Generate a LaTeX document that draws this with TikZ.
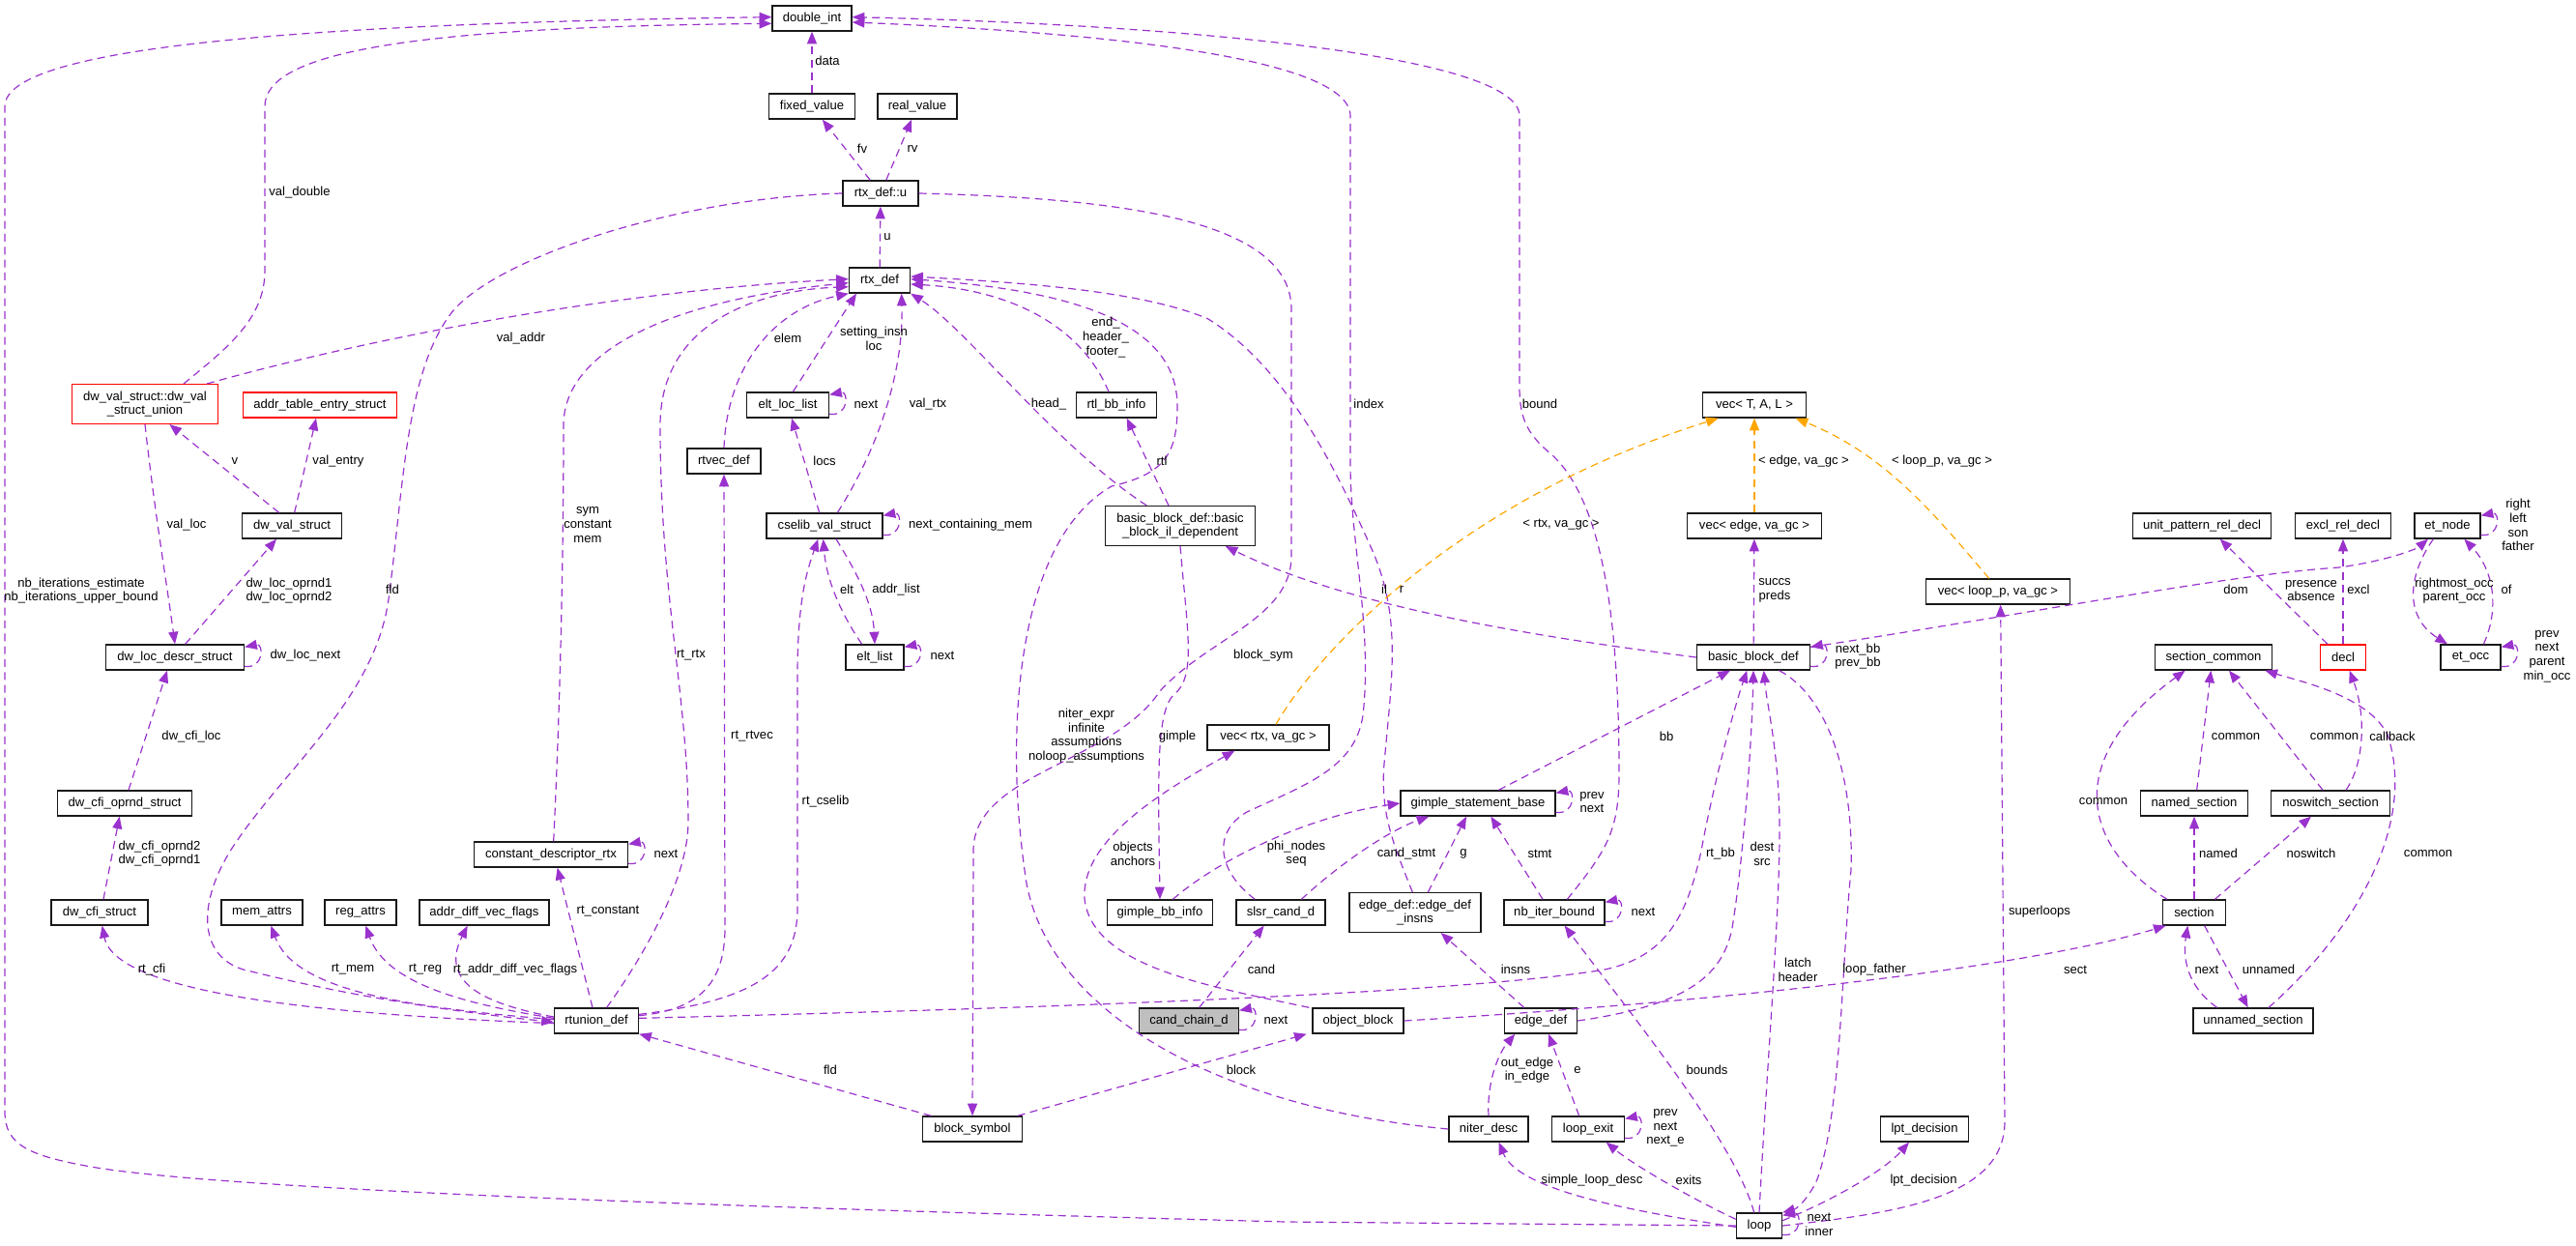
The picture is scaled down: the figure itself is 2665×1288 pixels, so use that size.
\documentclass[tikz,border=0pt]{standalone}
\usepackage{fontspec}
\setmainfont{Liberation Sans}
\usetikzlibrary{arrows.meta}
\definecolor{usecol}{HTML}{9A32CD}
\definecolor{tplcol}{HTML}{FFA500}
\definecolor{selcol}{HTML}{BFBFBF}
\newcommand{\lbfont}{\fontsize{9.8}{11}\selectfont}

\begin{document}
\begin{tikzpicture}[x={(0.75pt,0)}, y={(0,-0.75pt)},
    cls/.style={draw=black!90, line width=1pt, fill=white, inner xsep=1pt, inner ysep=1pt,
                minimum height=19.5pt, align=center, font=\lbfont},
    boxw/.style={minimum width=#1*0.75pt},
    tall/.style={minimum height=30.5pt},
    bad/.style={draw=red},
    lbl/.style={inner sep=0pt, align=center, font=\lbfont},
    coll/.style={draw=usecol, line width=0.9pt, dash pattern=on 6pt off 4pt,
                 -{Triangle[length=9.5pt,width=7.5pt]}},
    tpl/.style={coll, draw=tplcol}]
    \useasboundingbox (0,0) rectangle (2665,1288);

    % Classes, top to bottom
    \node[cls, boxw=82] (double_int) at (840,19) {double\_int};
    \node[cls, boxw=89] (fixed_value) at (840,110) {fixed\_value};
    \node[cls, boxw=82] (real_value) at (949,110) {real\_value};
    \node[cls, boxw=78] (rtx_def_u) at (911,200) {rtx\_def::u};
    \node[cls, boxw=63] (rtx_def) at (910,290) {rtx\_def};
    \node[cls, bad, tall, boxw=151] (dw_val_union) at (150,418) {dw\_val\_struct::dw\_val\\\_struct\_union};
    \node[cls, bad, boxw=159] (addr_table) at (331,419) {addr\_table\_entry\_struct};
    \node[cls, boxw=85] (elt_loc_list) at (815,419) {elt\_loc\_list};
    \node[cls, boxw=83] (rtl_bb_info) at (1155,419) {rtl\_bb\_info};
    \node[cls, boxw=107] (vec_tal) at (1815,419) {vec< T, A, L >};
    \node[cls, boxw=76] (rtvec_def) at (749,477) {rtvec\_def};
    \node[cls, boxw=103] (dw_val_struct) at (302,544) {dw\_val\_struct};
    \node[cls, boxw=120] (cselib_val_struct) at (853,544) {cselib\_val\_struct};
    \node[cls, tall, boxw=155] (bbil) at (1221,544) {basic\_block\_def::basic\\\_block\_il\_dependent};
    \node[cls, boxw=139] (vec_edge) at (1815,544) {vec< edge, va\_gc >};
    \node[cls, boxw=143] (unit_pattern_rel_decl) at (2278,544) {unit\_pattern\_rel\_decl};
    \node[cls, boxw=99] (excl_rel_decl) at (2424,544) {excl\_rel\_decl};
    \node[cls, boxw=68] (et_node) at (2532,544) {et\_node};
    \node[cls, boxw=149] (vec_loop) at (2067,612) {vec< loop\_p, va\_gc >};
    \node[cls, boxw=143] (dw_loc_descr_struct) at (181,680) {dw\_loc\_descr\_struct};
    \node[cls, boxw=60] (elt_list) at (905,680) {elt\_list};
    \node[cls, boxw=117] (basic_block_def) at (1814,680) {basic\_block\_def};
    \node[cls, boxw=121] (section_common) at (2290,680) {section\_common};
    \node[cls, bad, boxw=47] (decl) at (2424,680) {decl};
    \node[cls, boxw=62] (et_occ) at (2556,680) {et\_occ};
    \node[cls, boxw=126] (vec_rtx) at (1312,763) {vec< rtx, va\_gc >};
    \node[cls, boxw=139] (dw_cfi_oprnd_struct) at (129,831) {dw\_cfi\_oprnd\_struct};
    \node[cls, boxw=160] (gimple_statement_base) at (1529,831) {gimple\_statement\_base};
    \node[cls, boxw=111] (named_section) at (2270,831) {named\_section};
    \node[cls, boxw=123] (noswitch_section) at (2411,831) {noswitch\_section};
    \node[cls, boxw=159] (constant_descriptor_rtx) at (570,884) {constant\_descriptor\_rtx};
    \node[cls, boxw=100] (dw_cfi_struct) at (103,944) {dw\_cfi\_struct};
    \node[cls, boxw=84] (mem_attrs) at (271,944) {mem\_attrs};
    \node[cls, boxw=74] (reg_attrs) at (373,944) {reg\_attrs};
    \node[cls, boxw=134] (addr_diff_vec_flags) at (501,944) {addr\_diff\_vec\_flags};
    \node[cls, boxw=109] (gimple_bb_info) at (1200,944) {gimple\_bb\_info};
    \node[cls, boxw=92] (slsr_cand_d) at (1325,944) {slsr\_cand\_d};
    \node[cls, tall, boxw=136] (edge_def_insns) at (1464,944) {edge\_def::edge\_def\\\_insns};
    \node[cls, boxw=104] (nb_iter_bound) at (1608,944) {nb\_iter\_bound};
    \node[cls, boxw=65] (section) at (2270,944) {section};
    \node[cls, boxw=87] (rtunion_def) at (617,1056) {rtunion\_def};
    \node[cls, fill=selcol, boxw=103] (cand_chain_d) at (1230,1056) {cand\_chain\_d};
    \node[cls, boxw=94] (object_block) at (1405,1056) {object\_block};
    \node[cls, boxw=75] (edge_def) at (1594,1056) {edge\_def};
    \node[cls, boxw=124] (unnamed_section) at (2331,1056) {unnamed\_section};
    \node[cls, boxw=103] (block_symbol) at (1006,1168) {block\_symbol};
    \node[cls, boxw=82] (niter_desc) at (1540,1168) {niter\_desc};
    \node[cls, boxw=75] (loop_exit) at (1643,1168) {loop\_exit};
    \node[cls, boxw=91] (lpt_decision) at (1991,1168) {lpt\_decision};
    \node[cls, boxw=47] (loop) at (1820,1268) {loop};

    % double_int
    \draw[coll] (fixed_value) -- (double_int);
    \draw[coll] ([xshift=30pt]dw_val_union.north) .. controls (235,360) and (274,330) .. (274,280)
        -- (274,110) .. controls (274,55) and (420,28) .. ([yshift=-4pt]double_int.west);
    \draw[coll] (loop.west) -- (1330,1264) .. controls (800,1250) and (250,1232) .. (100,1208)
        .. controls (30,1196) and (5,1185) .. (5,1150) -- (5,110)
        .. controls (5,45) and (350,24) .. ([yshift=1pt]double_int.west);
    \draw[coll] ([xshift=-20pt]slsr_cand_d.north) .. controls (1258,900) and (1255,860) .. (1290,840)
        .. controls (1350,812) and (1402,795) .. (1410,740) .. controls (1420,650) and (1397,560) .. (1397,480)
        -- (1397,120) .. controls (1397,55) and (1100,32) .. ([yshift=-3pt]double_int.east);
    \draw[coll] ([xshift=10pt]nb_iter_bound.north) .. controls (1662,880) and (1675,860) .. (1675,800)
        .. controls (1675,650) and (1660,520) .. (1605,470) .. controls (1578,448) and (1572,430) .. (1572,400)
        -- (1572,120) .. controls (1572,55) and (1200,25) .. ([yshift=1pt]double_int.east);

    % rtx_def::u
    \draw[coll] (rtx_def_u) -- (fixed_value);
    \draw[coll] (rtx_def_u) -- (real_value);
    \draw[coll] (rtx_def) -- (rtx_def_u);
    \draw[coll] (rtx_def_u.west) .. controls (700,205) and (520,265) .. (470,320)
        .. controls (420,380) and (418,500) .. (402,620) .. controls (388,720) and (300,790) .. (245,870)
        .. controls (200,935) and (205,995) .. (260,1005) .. controls (380,1035) and (500,1050) .. ([yshift=-1pt]rtunion_def.west);
    \draw[coll] (rtx_def_u.east) .. controls (1150,205) and (1336,225) .. (1336,320) -- (1336,575)
        .. controls (1336,640) and (1250,660) .. (1200,715) .. controls (1150,790) and (1007,800) .. (1007,880)
        -- (block_symbol.north);

    % into rtx_def
    \draw[coll] ([xshift=48pt]dw_val_union.north) .. controls (400,345) and (650,300) .. ([yshift=1pt]rtx_def.west);
    \draw[coll] ([xshift=2pt]constant_descriptor_rtx.north) .. controls (581,700) and (583,540) .. (583,440)
        .. controls (583,360) and (700,310) .. ([yshift=-2pt]rtx_def.west);
    \draw[coll] ([xshift=8pt]rtunion_def.north) .. controls (665,990) and (712,910) .. (712,850)
        .. controls (712,720) and (683,620) .. (683,440) .. controls (683,330) and (790,300) .. ([yshift=-5pt]rtx_def.west);
    \draw[coll] (rtvec_def.north) .. controls (752,380) and (800,320) .. (rtx_def.south west);
    \draw[coll] ([xshift=4pt]elt_loc_list.north) -- ([xshift=-18pt]rtx_def.south);
    \draw[coll] ([xshift=10pt]cselib_val_struct.north) .. controls (905,470) and (935,390) .. ([xshift=17pt]rtx_def.south);
    \draw[coll] ([xshift=-26pt]bbil.north) .. controls (1090,460) and (1000,340) .. (rtx_def.south east);
    \draw[coll] ([xshift=-6pt]rtl_bb_info.north) .. controls (1120,340) and (1050,300) .. ([yshift=-3pt]rtx_def.east);
    \draw[coll] (niter_desc.west) .. controls (1250,1145) and (1075,1040) .. (1060,900)
        .. controls (1040,760) and (1050,560) .. (1150,503) .. controls (1205,490) and (1218,470) .. (1218,420)
        .. controls (1218,330) and (1100,300) .. ([yshift=1pt]rtx_def.east);
    \draw[coll] ([xshift=-2pt]edge_def_insns.north) .. controls (1440,870) and (1428,840) .. (1432,790)
        .. controls (1440,700) and (1450,640) .. (1420,570) .. controls (1380,480) and (1330,380) .. (1250,330)
        .. controls (1180,300) and (1050,292) .. ([yshift=3pt]rtx_def.east);

    % rtunion_def members
    \draw[coll] ([yshift=-2pt]rtunion_def.west) .. controls (350,1050) and (120,1030) .. ([xshift=2pt]dw_cfi_struct.south);
    \draw[coll] ([yshift=1pt]rtunion_def.west) .. controls (420,1042) and (305,1025) .. ([xshift=7pt]mem_attrs.south);
    \draw[coll] ([yshift=2pt]rtunion_def.west) .. controls (490,1040) and (400,1020) .. ([xshift=4pt]reg_attrs.south);
    \draw[coll] ([yshift=3pt]rtunion_def.west) .. controls (510,1040) and (452,1020) .. ([xshift=-13pt]addr_diff_vec_flags.south);
    \draw[coll] ([xshift=-3pt]rtunion_def.north) -- ([xshift=5pt]constant_descriptor_rtx.south);
    \draw[coll] ([yshift=4pt]rtunion_def.east) .. controls (720,1045) and (750,1020) .. (750,960) -- (rtvec_def.south);
    \draw[coll] ([yshift=5pt]rtunion_def.east) .. controls (780,1035) and (825,1005) .. (825,940) -- (825,700)
        .. controls (825,620) and (835,590) .. ([xshift=-5pt]cselib_val_struct.south);
    \draw[coll] ([yshift=2pt]rtunion_def.east) .. controls (1000,1045) and (1500,1030) .. (1660,1003)
        .. controls (1722,990) and (1745,950) .. (1760,880) .. controls (1775,800) and (1795,730) .. ([xshift=-5pt]basic_block_def.south);

    % dwarf structs
    \draw[coll] ([xshift=-10pt]dw_val_struct.north) -- ([xshift=19pt]dw_val_union.south);
    \draw[coll] ([xshift=2pt]dw_val_struct.north) -- ([xshift=-3pt]addr_table.south);
    \draw[coll] (dw_val_union.south) .. controls (160,530) and (172,600) .. (dw_loc_descr_struct.north);
    \draw[coll] ([xshift=8pt]dw_loc_descr_struct.north) -- ([xshift=-12pt]dw_val_struct.south);
    \draw[coll] ([xshift=3pt]dw_cfi_oprnd_struct.north) -- ([xshift=-6pt]dw_loc_descr_struct.south);
    \draw[coll] ([xshift=3pt]dw_cfi_struct.north) -- ([xshift=-4pt]dw_cfi_oprnd_struct.south);

    % cselib
    \draw[coll] ([xshift=-4pt]cselib_val_struct.north) -- ([xshift=3pt]elt_loc_list.south);
    \draw[coll] ([xshift=-10pt]elt_list.north) .. controls (870,635) and (855,600) .. ([xshift=-1pt]cselib_val_struct.south);
    \draw[coll] ([xshift=9pt]cselib_val_struct.south) .. controls (888,595) and (903,625) .. (elt_list.north);

    % basic blocks
    \draw[coll] ([xshift=-9pt]bbil.north) -- ([xshift=8pt]rtl_bb_info.south);
    \draw[coll] (bbil.south) .. controls (1228,650) and (1238,700) .. (1215,718)
        .. controls (1196,735) and (1198,800) .. (gimple_bb_info.north);
    \draw[coll] (basic_block_def.west) .. controls (1600,660) and (1400,630) .. ([xshift=35pt]bbil.south);
    \draw[coll] (basic_block_def) -- (vec_edge);
    \draw[coll] ([xshift=16pt]gimple_statement_base.north) -- ([xshift=-18pt]basic_block_def.south);
    \draw[coll] (edge_def.east) .. controls (1745,1040) and (1782,1010) .. (1792,960)
        .. controls (1802,900) and (1812,780) .. (basic_block_def.south);
    \draw[coll] (loop.north) .. controls (1828,1100) and (1841,950) .. (1841,860)
        .. controls (1841,780) and (1828,730) .. ([xshift=8pt]basic_block_def.south);
    \draw[coll] ([xshift=20pt]basic_block_def.south) .. controls (1890,720) and (1918,800) .. (1915,900)
        .. controls (1905,1000) and (1905,1150) .. (1880,1220) .. controls (1872,1238) and (1860,1250) .. (loop.north east);
    \draw[coll] ([yshift=8pt]basic_block_def.east) .. controls (2100,635) and (2300,595) .. (2420,587)
        .. controls (2470,580) and (2500,568) .. ([xshift=-15pt]et_node.south);

    % templates
    \draw[tpl] ([xshift=6pt]vec_rtx.north) .. controls (1360,680) and (1500,520) .. ([xshift=-28pt]vec_tal.south);
    \draw[tpl] (vec_edge) -- (vec_tal);
    \draw[tpl] ([xshift=-7pt]vec_loop.north) .. controls (2000,530) and (1950,470) .. ([xshift=32pt]vec_tal.south);

    % gimple
    \draw[coll] ([xshift=10pt]gimple_bb_info.north) .. controls (1260,890) and (1350,845) .. (gimple_statement_base.west);
    \draw[coll] ([xshift=16pt]slsr_cand_d.north) .. controls (1390,890) and (1440,858) .. ([xshift=-38pt]gimple_statement_base.south);
    \draw[coll] ([xshift=10pt]edge_def_insns.north) -- ([xshift=-9pt]gimple_statement_base.south);
    \draw[coll] ([xshift=-9pt]nb_iter_bound.north) -- ([xshift=10pt]gimple_statement_base.south);

    % object_block, block_symbol, cand_chain_d
    \draw[coll] ([xshift=-38pt]object_block.north) .. controls (1250,1020) and (1130,1000) .. (1122,930)
        .. controls (1118,870) and (1200,820) .. ([xshift=-26pt]vec_rtx.south);
    \draw[coll] ([xshift=-32pt]block_symbol.north) -- (rtunion_def.south east);
    \draw[coll] ([xshift=35pt]block_symbol.north) -- ([xshift=-40pt]object_block.south);
    \draw[coll] (object_block.east) .. controls (1800,1035) and (2100,1000) .. ([xshift=-22pt]section.south);
    \draw[coll] ([xshift=8pt]cand_chain_d.north) -- ([xshift=-13pt]slsr_cand_d.south);

    % loop
    \draw[coll] (loop.east) .. controls (1960,1255) and (2074,1240) .. (2074,1160) -- ([xshift=2pt]vec_loop.south);
    \draw[coll] ([yshift=4pt]loop.east) .. controls (1900,1240) and (1950,1210) .. ([xshift=-12pt]lpt_decision.south);
    \draw[coll] ([yshift=5pt]loop.west) .. controls (1750,1240) and (1690,1205) .. ([xshift=14pt]loop_exit.south);
    \draw[coll] ([yshift=-1pt]loop.west) .. controls (1680,1252) and (1570,1230) .. ([xshift=8pt]niter_desc.south);
    \draw[coll] ([xshift=-4pt]loop.north) .. controls (1795,1180) and (1680,1040) .. ([xshift=8pt]nb_iter_bound.south);
    \draw[coll] ([xshift=-13pt]edge_def.north) -- ([xshift=20pt]edge_def_insns.south);
    \draw[coll] (niter_desc.north) .. controls (1538,1120) and (1550,1090) .. ([xshift=-20pt]edge_def.south);
    \draw[coll] ([xshift=-7pt]loop_exit.north) -- ([xshift=6pt]edge_def.south);

    % decl, et, sections
    \draw[coll] ([xshift=-12pt]decl.north) -- ([xshift=14pt]unit_pattern_rel_decl.south);
    \draw[coll] (decl) -- (excl_rel_decl);
    \draw[coll] ([xshift=-11pt]et_node.south) .. controls (2488,600) and (2490,640) .. ([xshift=-18pt]et_occ.north);
    \draw[coll] ([xshift=10pt]et_occ.north) .. controls (2586,630) and (2580,590) .. ([xshift=13pt]et_node.south);
    \draw[coll] ([xshift=2pt]named_section.north) -- ([xshift=-2pt]section_common.south);
    \draw[coll] ([xshift=-6pt]noswitch_section.north) -- ([xshift=12pt]section_common.south);
    \draw[coll] ([xshift=12pt]noswitch_section.north) .. controls (2446,790) and (2448,740) .. ([xshift=5pt]decl.south);
    \draw[coll] ([xshift=-21pt]section.north) .. controls (2160,880) and (2128,790) .. ([xshift=-22pt]section_common.south);
    \draw[coll] ([xshift=12pt]unnamed_section.north) .. controls (2440,960) and (2500,850) .. (2470,760)
        .. controls (2450,720) and (2380,705) .. ([xshift=40pt]section_common.south);
    \draw[coll] (section) -- (named_section);
    \draw[coll] ([xshift=16pt]section.north) -- ([xshift=-15pt]noswitch_section.south);
    \draw[coll] ([xshift=-28pt]unnamed_section.north) .. controls (2262,1020) and (2258,990) .. ([xshift=-5pt]section.south);
    \draw[coll] ([xshift=8pt]section.south) -- ([xshift=-4pt]unnamed_section.north);

    % self references
    \foreach \n in {elt_loc_list, dw_loc_descr_struct, cselib_val_struct, elt_list, constant_descriptor_rtx,
                    basic_block_def, gimple_statement_base, nb_iter_bound, cand_chain_d, loop_exit, loop,
                    et_node, et_occ}
        \draw[coll] ([yshift=-7pt]\n.east) .. controls +(20,3) and +(20,-4) .. ([yshift=8pt]\n.east);

    % Edge labels
    \node[lbl] (l_data) at (856,63) {data};
    \node[lbl] (l_fv) at (892,154) {fv};
    \node[lbl] (l_rv) at (944,154) {rv};
    \node[lbl] (l_u) at (918,245) {u};
    \node[lbl] (l_valdouble) at (310,199) {val\_double};
    \node[lbl] (l_valaddr) at (539,350) {val\_addr};
    \node[lbl] (l_elem) at (815,350) {elem};
    \node[lbl] (l_setting) at (904,350) {setting\_insn\\loc};
    \node[lbl] (l_endheader) at (1144,349) {end\_\\header\_\\footer\_};
    \node[lbl] (l_eltnext) at (896,418) {next};
    \node[lbl] (l_valrtx) at (960,418) {val\_rtx};
    \node[lbl] (l_head) at (1085,418) {head\_};
    \node[lbl] (l_index) at (1416,418) {index};
    \node[lbl] (l_bound) at (1593,418) {bound};
    \node[lbl] (l_v) at (243,477) {v};
    \node[lbl] (l_valentry) at (350,477) {val\_entry};
    \node[lbl] (l_locs) at (853,477) {locs};
    \node[lbl] (l_rtl) at (1202,477) {rtl};
    \node[lbl] (l_tedge) at (1866,477) {< edge, va\_gc >};
    \node[lbl] (l_tloop) at (2009,477) {< loop\_p, va\_gc >};
    \node[lbl] (l_valloc) at (193,543) {val\_loc};
    \node[lbl] (l_sym) at (608,543) {sym\\constant\\mem};
    \node[lbl] (l_nextmem) at (1004,543) {next\_containing\_mem};
    \node[lbl] (l_trtx) at (1615,543) {< rtx, va\_gc >};
    \node[lbl] (l_rlnode) at (2605,543) {right\\left\\son\\father};
    \node[lbl] (l_nbiter) at (84,611) {nb\_iterations\_estimate\\nb\_iterations\_upper\_bound};
    \node[lbl] (l_oprnd) at (299,611) {dw\_loc\_oprnd1\\dw\_loc\_oprnd2};
    \node[lbl] (l_fld) at (406,610) {fld};
    \node[lbl] (l_elt) at (876,610) {elt};
    \node[lbl] (l_addrlist) at (927,610) {addr\_list};
    \node[lbl] (l_il) at (1432,610) {il};
    \node[lbl] (l_r) at (1450,610) {r};
    \node[lbl] (l_succs) at (1836,611) {succs\\preds};
    \node[lbl] (l_dom) at (2313,610) {dom};
    \node[lbl] (l_presence) at (2391,611) {presence\\absence};
    \node[lbl] (l_excl) at (2440,610) {excl};
    \node[lbl] (l_rightmost) at (2539,611) {rightmost\_occ\\parent\_occ};
    \node[lbl] (l_of) at (2593,610) {of};
    \node[lbl] (l_locnext) at (316,678) {dw\_loc\_next};
    \node[lbl] (l_rtrtx) at (715,678) {rt\_rtx};
    \node[lbl] (l_listnext) at (975,678) {next};
    \node[lbl] (l_blocksym) at (1307,678) {block\_sym};
    \node[lbl] (l_nextbb) at (1922,679) {next\_bb\\prev\_bb};
    \node[lbl] (l_occnext) at (2635,679) {prev\\next\\parent\\min\_occ};
    \node[lbl] (l_cfiloc) at (198,762) {dw\_cfi\_loc};
    \node[lbl] (l_rtrtvec) at (778,762) {rt\_rtvec};
    \node[lbl] (l_niter) at (1124,761) {niter\_expr\\infinite\\assumptions\\noloop\_assumptions};
    \node[lbl] (l_gimple) at (1218,762) {gimple};
    \node[lbl] (l_bb) at (1724,762) {bb};
    \node[lbl] (l_common1) at (2313,762) {common};
    \node[lbl] (l_common2) at (2415,762) {common};
    \node[lbl] (l_callback) at (2475,762) {callback};
    \node[lbl] (l_rtcselib) at (854,829) {rt\_cselib};
    \node[lbl] (l_gsnext) at (1647,830) {prev\\next};
    \node[lbl] (l_common3) at (2176,829) {common};
    \node[lbl] (l_cfioprnd) at (165,883) {dw\_cfi\_oprnd2\\dw\_cfi\_oprnd1};
    \node[lbl] (l_cdnext) at (689,883) {next};
    \node[lbl] (l_objects) at (1172,883) {objects\\anchors};
    \node[lbl] (l_phi) at (1341,883) {phi\_nodes\\seq};
    \node[lbl] (l_candstmt) at (1455,883) {cand\_stmt};
    \node[lbl] (l_g) at (1514,883) {g};
    \node[lbl] (l_stmt) at (1593,883) {stmt};
    \node[lbl] (l_rtbb) at (1780,883) {rt\_bb};
    \node[lbl] (l_dest) at (1823,883) {dest\\src};
    \node[lbl] (l_named) at (2295,883) {named};
    \node[lbl] (l_noswitch) at (2391,883) {noswitch};
    \node[lbl] (l_common4) at (2512,883) {common};
    \node[lbl] (l_rtconstant) at (629,943) {rt\_constant};
    \node[lbl] (l_nbnext) at (1700,943) {next};
    \node[lbl] (l_superloops) at (2110,943) {superloops};
    \node[lbl] (l_rtcfi) at (157,1003) {rt\_cfi};
    \node[lbl] (l_rtmem) at (365,1003) {rt\_mem};
    \node[lbl] (l_rtreg) at (440,1003) {rt\_reg};
    \node[lbl] (l_rtaddr) at (533,1003) {rt\_addr\_diff\_vec\_flags};
    \node[lbl] (l_cand) at (1305,1003) {cand};
    \node[lbl] (l_insns) at (1568,1003) {insns};
    \node[lbl] (l_latch) at (1860,1003) {latch\\header};
    \node[lbl] (l_loopfather) at (1939,1003) {loop\_father};
    \node[lbl] (l_sect) at (2147,1003) {sect};
    \node[lbl] (l_secnext) at (2283,1003) {next};
    \node[lbl] (l_unnamed) at (2347,1003) {unnamed};
    \node[lbl] (l_ccnext) at (1320,1055) {next};
    \node[lbl] (l_bsfld) at (859,1107) {fld};
    \node[lbl] (l_block) at (1284,1107) {block};
    \node[lbl] (l_outedge) at (1580,1107) {out\_edge\\in\_edge};
    \node[lbl] (l_e) at (1632,1107) {e};
    \node[lbl] (l_bounds) at (1766,1107) {bounds};
    \node[lbl] (l_exitnext) at (1723,1167) {prev\\next\\next\_e};
    \node[lbl] (l_simple) at (1647,1221) {simple\_loop\_desc};
    \node[lbl] (l_exits) at (1747,1221) {exits};
    \node[lbl] (l_lpt) at (1990,1221) {lpt\_decision};
    \node[lbl] (l_loopnext) at (1882,1267) {next\\inner};
\end{tikzpicture}
\end{document}
